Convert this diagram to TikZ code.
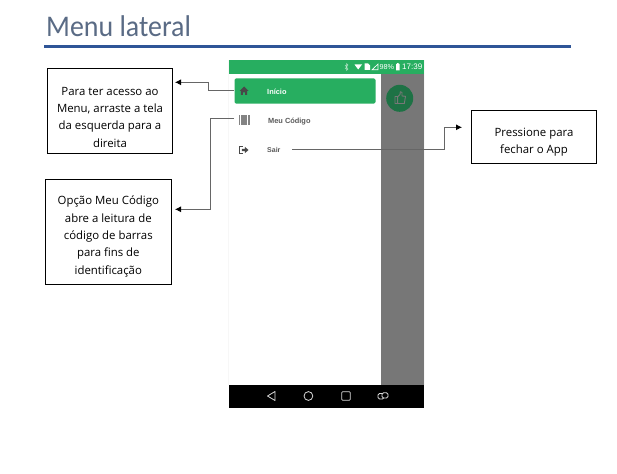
\documentclass[tikz,border=0pt]{standalone}
\usepackage{fontspec}
\setmainfont{Open Sans}
\newfontfamily\titlefont[FakeStretch=0.93]{Carlito}
\newfontfamily\uifont{Liberation Sans}
\usetikzlibrary{calc,arrows.meta}
\definecolor{appgreen}{HTML}{27AE60}
\definecolor{darkgreen}{HTML}{1E7245}
\definecolor{panelgray}{HTML}{777777}
\definecolor{rulecol}{HTML}{2F5597}
\definecolor{titlecol}{HTML}{5A6B85}
\definecolor{menugray}{HTML}{5A5A5A}
\tikzset{
  callout/.style={draw=black,line width=0.9pt,fill=white,align=center,inner sep=0pt,font=\fontsize{11.4}{17.3}\selectfont},
  conn/.style={draw=black!60,line width=0.8pt,-{Latex[black,length=6pt,width=6pt]}},
  menuitem/.style={anchor=west,inner sep=0pt,font=\uifont\bfseries\fontsize{7.4}{9}\selectfont,text=menugray},
  statustext/.style={inner sep=0pt,text=white,font=\uifont\fontsize{7.6}{9}\selectfont},
  navicon/.style={draw=white!85!black,line width=0.8pt},
}
\begin{document}
\begin{tikzpicture}[x=1pt,y=-1pt]
\useasboundingbox[fill=white] (0,0) rectangle (617,473);
% title
\node[anchor=base west,inner sep=0pt,text=titlecol,font=\titlefont\fontsize{30}{36}\selectfont] (title) at (46,37) {Menu lateral};
\fill[rulecol] (44,44.8) rectangle (571,47.8);
% phone
\fill[white!97!black] (228,60) rectangle (425,385);
\fill[white] (229,74) rectangle (381,385);
\fill[panelgray] (381,74) rectangle (424,385);
\fill[appgreen] (229,60) rectangle (424,74);
\fill[black] (229,384.5) rectangle (424,407.7);
\fill[appgreen,rounded corners=1.5pt] (234.5,78.3) rectangle (375.5,103.7);
\fill[darkgreen] (399.7,98.3) circle (13.5);
% thumb icon
\draw[panelgray,line width=0.9pt,line join=round] (395,96.5) rectangle (397.6,103.5)
  (397.6,97) -- (400,94.5) -- (400.3,91.8) -- (402,92.3) -- (402,96) -- (405.5,96.3) -- (404.3,103.5) -- (397.6,103.5);
% status bar
\draw[white!65!appgreen,line width=0.5pt] (345,65) -- (348,69) -- (346.5,70.5) -- (346.5,63.5) -- (348,65) -- (345,69);
\fill[white] (354.5,64.5) -- (362,64.5) -- (358.2,69.5) -- cycle;
\fill[white] (364.5,63.5) -- (368,63.5) -- (370,65.5) -- (370,70) -- (364.5,70) -- cycle;
\draw[white,line width=0.6pt] (372,69.8) -- (378,69.8) -- (378,64) -- cycle;
\node[statustext,anchor=west] (pct) at (379.5,67.2) {\fontsize{7.2}{9}\selectfont 98\%};
\fill[white] (396,64) rectangle (399.7,70.5) (397,63.2) rectangle (398.7,64);
\node[statustext,anchor=west,font=\uifont\fontsize{8}{9}\selectfont] (clock) at (402,67.2) {17:39};
% menu icons
\fill[menugray!80!black] (239.5,91) -- (244,86.5) -- (248.5,91) -- (247.2,91) -- (247.2,95) -- (245.2,95) -- (245.2,92.3) -- (242.8,92.3) -- (242.8,95) -- (240.8,95) -- (240.8,91) -- cycle;
\foreach \bx/\bw in {239/1,240.6/0.5,241.7/0.5,242.8/0.9,244.2/0.5,245.3/0.5,246.4/0.9,247.8/0.5,249/1}
  \fill[menugray!75] (\bx,115) rectangle ++(\bw,10);
\draw[menugray!80!black,line width=0.8pt] (242.5,146.8) -- (239.8,146.8) -- (239.8,153.2) -- (242.5,153.2);
\fill[menugray!80!black] (241.8,148.8) -- (244.8,148.8) -- (244.8,146.8) -- (248.5,150) -- (244.8,153.2) -- (244.8,151.2) -- (241.8,151.2) -- cycle;
% menu text
\node[menuitem,text=white] (inicio) at (267,91.4) {Início};
\node[menuitem] (codigo) at (268,121.5) {Meu Código};
\node[menuitem,font=\uifont\bfseries\fontsize{7}{9}\selectfont] (sair) at (267,150.3) {Sair};
% nav icons
\draw[navicon,line join=round] (275,391.5) -- (267.5,396) -- (275,400.5) -- cycle;
\draw[navicon] (308.4,396) circle (4.4);
\draw[navicon,rounded corners=0.8pt] (341.8,391.8) rectangle (350.2,400.2);
\draw[navicon,rounded corners=1.5pt] (378,393.5) rectangle (384,399);
\draw[navicon,fill=black,rounded corners=1.5pt] (382,392.8) rectangle (388,398);
% callouts
\node[callout,minimum width=125.4pt,minimum height=85pt] (box1) at (110,110.8) {\rule{0pt}{21pt}Para ter acesso ao\\Menu, arraste a tela\\da esquerda para a\\direita};
\node[callout,minimum width=126pt,minimum height=105pt] (box2) at (108.3,231.8) {\rule{0pt}{18pt}Opção Meu Código\\abre a leitura de\\código de barras\\para fins de\\identificação};
\node[callout,minimum width=125.4pt,minimum height=53.4pt] (box3) at (534,137) {\rule{0pt}{19pt}Pressione para\\fechar o App};
% connectors
\coordinate (s1) at (234,90.3);
\coordinate (s2) at (234,118.7);
\coordinate (s3) at (292,149.7);
\coordinate (t1) at (175,82.3);
\coordinate (t2) at (175,209.3);
\coordinate (t3) at (462,127.3);
\draw[conn] (s1) -- (208,90.3) -- (208,82.3) -- (t1);
\draw[conn] (s2) -- (210.8,118.7) -- (210.8,209.3) -- (t2);
\draw[conn] (s3) -- (444.3,149.7) -- (444.3,127.3) -- (t3);
\end{tikzpicture}
\end{document}
